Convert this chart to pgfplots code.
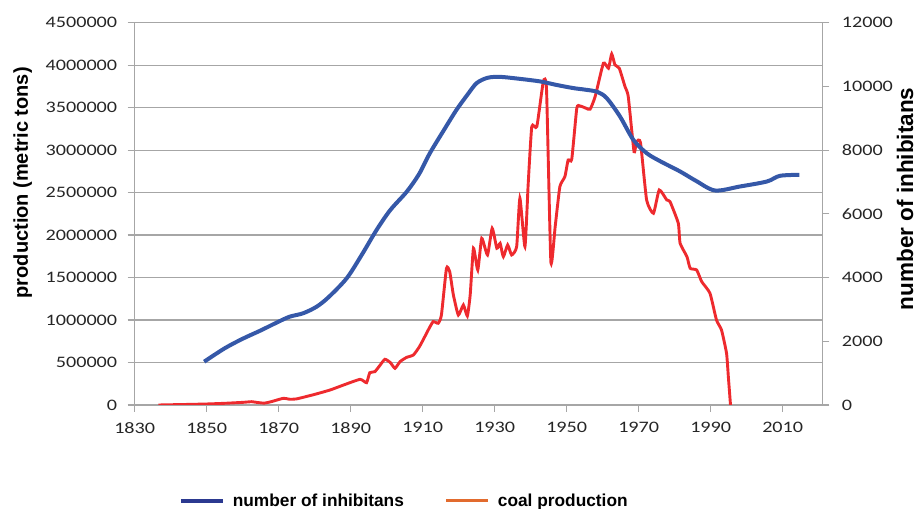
\documentclass[border=0pt]{standalone}
\usepackage{fontspec}
\setmainfont{Liberation Sans}
\newfontfamily\tickfont[FakeStretch=1.26]{Carlito}
\usepackage{pgfplots}
\pgfplotsset{compat=1.18}
\definecolor{gridgray}{HTML}{A6A6A6}
\definecolor{popblue}{HTML}{3558A8}
\definecolor{coalred}{HTML}{EE2A2E}
\definecolor{legblue}{HTML}{2B3990}
\definecolor{legorange}{HTML}{E26B2E}
\definecolor{ticktext}{HTML}{262626}

\pgfplotstableread{
year coal
1836.6 0
1840 3000
1845 7000
1850 12000
1855 20000
1860 31000
1862.5 39000
1864 30000
1866 22000
1868 40000
1871.3 79000
1873 68000
1875 72000
1880 125000
1884.3 177000
1888 235000
1892.6 302000
1894.4 263000
1895.3 380000
1896.7 392000
1898 460000
1899.5 538000
1901 500000
1902.3 432000
1903.7 510000
1905.5 560000
1907.4 588000
1909 680000
1910.2 773000
1911.5 880000
1912.9 981000
1914.3 962000
1915.2 1059000
1916.6 1609000
1917.5 1570000
1918.5 1300000
1919.9 1059000
1921.3 1177000
1922.4 1048000
1923.2 1300000
1924.1 1845000
1925.3 1589000
1926.4 1962000
1928 1766000
1929.3 2080000
1930.6 1845000
1931.5 1904000
1932.4 1746000
1933.6 1884000
1934.7 1766000
1936.1 1864000
1937.0 2433000
1938.4 1864000
1939.3 2600000
1940.3 3277000
1941.7 3277000
1943.5 3806000
1944.4 3708000
1945.6 1687000
1946.8 2100000
1948.1 2570000
1949.5 2688000
1950.4 2884000
1951.4 2892000
1952.8 3493000
1953.7 3520000
1955.4 3493000
1956.5 3481000
1957.9 3630000
1960.2 4023000
1961.6 3964000
1962.5 4132000
1963.4 4003000
1964.6 3964000
1966.2 3747000
1967.1 3630000
1968.7 2982000
1969.4 3100000
1970.5 3088000
1972.2 2413000
1974.1 2257000
1975.7 2531000
1977.8 2413000
1978.7 2394000
1981.0 2139000
1981.5 1904000
1983.4 1746000
1984.3 1609000
1986.1 1589000
1987.5 1452000
1989.8 1315000
1991.6 1001000
1993 883000
1994.4 609000
1994.9 333000
1995.5 0
}\coaltable

\pgfplotstableread{
year pop
1849.3 1360
1855 1780
1860 2080
1865 2340
1869.4 2585
1873 2770
1876.8 2880
1880.6 3090
1884 3400
1888.9 3980
1893 4700
1897.2 5497
1901 6120
1905.6 6700
1909 7250
1912 7906
1916 8650
1919.4 9267
1922.5 9750
1925 10105
1928 10270
1931.4 10300
1936 10250
1942.6 10157
1947 10050
1951.8 9948
1955 9900
1958.5 9830
1961.1 9634
1964.8 9057
1968.5 8324
1972.2 7906
1976 7650
1981.5 7330
1986 7030
1991.2 6733
1998.1 6858
2005.6 7015
2009.2 7193
2014.6 7225
}\poptable

\pgfplotsset{
  common/.style={
    at={(134.7pt,104pt)}, anchor=south west,
    scale only axis, width=687.6pt, height=382.3pt,
    xmin=1830, xmax=2021,
    axis line style={gridgray, line width=1.2pt, -},
    tick style={gridgray, line width=1.2pt},
    tick align=outside, major tick length=7pt,
    /pgf/number format/assume math mode=true,
    /pgf/number format/fixed,
    /pgf/number format/precision=0,
    /pgf/number format/1000 sep={},
    tick label style={font=\tickfont\fontsize{16}{18}\selectfont, text=ticktext},
    scaled ticks=false,
  }
}

\begin{document}
\begin{tikzpicture}
\useasboundingbox (0,0) rectangle (919pt,509pt);
\begin{axis}[common,
  ymin=0, ymax=4500000,
  xtick={1830,1850,...,2010},
  ytick={0,500000,...,4500000},
  axis x line*=bottom, axis y line*=left,
  yticklabel style={xshift=-7pt},
  xticklabel style={yshift=-7pt},
  ymajorgrids, grid style={gridgray, line width=1.2pt},
  ylabel={\bfseries production (metric tons)},
  ylabel style={at={(axis description cs:-0.163,0.581)}, anchor=center, font=\fontsize{20}{24}\selectfont},
]
\addplot[coalred, line width=2.9pt, smooth, tension=0.3] table[x=year, y=coal] {\coaltable};
\end{axis}
\begin{axis}[common,
  ymin=0, ymax=12000,
  ytick={0,2000,...,12000},
  axis y line*=right, axis x line=none,
  yticklabel style={xshift=9pt},
  ylabel={\bfseries number of inhibitans},
  ylabel style={at={(axis description cs:1.1205,0.539)}, anchor=center, font=\fontsize{22.5}{27}\selectfont},
  legend style={at={(axis description cs:0.392,-0.251)}, anchor=center, draw=none, fill=none,
    legend columns=2, font=\bfseries\fontsize{17.3}{20}\selectfont,
    /tikz/every odd column/.append style={column sep=6pt},
    /tikz/every even column/.append style={column sep=39pt}},
  legend image code/.code={\draw[#1] (0pt,0pt) -- (42pt,0pt);},
]
\addplot[popblue, line width=4pt, smooth, tension=0.5, forget plot] table[x=year, y=pop] {\poptable};
\addlegendimage{legblue, line width=4pt}
\addlegendentry{number of inhibitans}
\addlegendimage{legorange, line width=3pt}
\addlegendentry{coal production}
\end{axis}
\end{tikzpicture}
\end{document}
